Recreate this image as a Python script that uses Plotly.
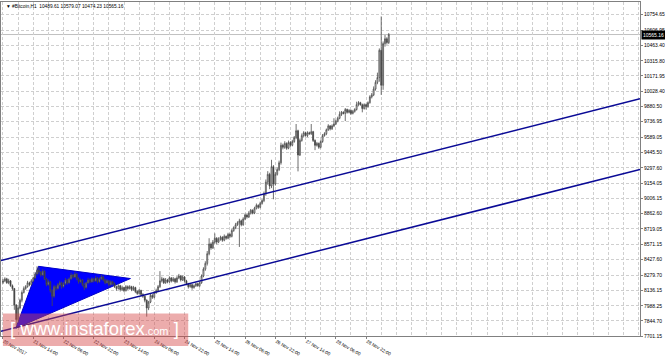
import plotly.graph_objects as go

# ---------------- data (H1 candles, bar index 0 = 20 Nov 2017 22:00) ----------------
opens = [8210, 8225, 8244, 8207, 8225, 8179, 8152, 7995, 7857, 7968,
         8041, 8115, 8152, 8170, 8207, 8189, 8225, 8253, 8290, 8326,
         8308, 8280, 8317, 8244, 8189, 8216, 8133, 8078, 8170, 8152,
         8189, 8207, 8170, 8198, 8234, 8207, 8244, 8280, 8262, 8290,
         8244, 8216, 8234, 8189, 8161, 8207, 8234, 8216, 8244, 8225,
         8253, 8216, 8244, 8262, 8234, 8207, 8225, 8189, 8216, 8198,
         8170, 8152, 8179, 8142, 8161, 8133, 8170, 8152, 8170, 8142,
         8161, 8124, 8106, 8133, 8096, 8078, 8041, 7967, 8023, 8087,
         8069, 8115, 8133, 8170, 8225, 8244, 8207, 8234, 8216, 8253,
         8225, 8244, 8216, 8253, 8271, 8234, 8262, 8225, 8198, 8170,
         8189, 8161, 8179, 8198, 8179, 8207, 8271, 8336, 8391, 8483,
         8575, 8538, 8593, 8630, 8593, 8621, 8639, 8611, 8648, 8630,
         8667, 8648, 8703, 8731, 8758, 8777, 8795, 8758, 8813, 8850,
         8832, 8869, 8896, 8869, 8915, 8942, 8924, 8961, 8988, 9053,
         9163, 9237, 9126, 9310, 9145, 9237, 9283, 9347, 9513, 9494,
         9531, 9485, 9540, 9513, 9549, 9586, 9651, 9421, 9559, 9605,
         9632, 9605, 9632, 9623, 9642, 9559, 9513, 9531, 9494, 9549,
         9605, 9623, 9660, 9697, 9669, 9697, 9715, 9743, 9770, 9807,
         9826, 9816, 9853, 9826, 9844, 9816, 9835, 9853, 9899, 9918,
         9899, 9862, 9899, 9881, 9918, 9973, 9992, 10047, 10111, 10157,
         10415, 10083, 10479, 10525, 10489.61]

highs = [8243, 8259, 8254, 8245, 8233, 8191, 8158, 8005, 7990, 8056,
         8127, 8172, 8184, 8225, 8217, 8241, 8265, 8310, 8363, 8354,
         8320, 8337, 8325, 8254, 8238, 8224, 8145, 8188, 8182, 8204,
         8227, 8217, 8213, 8252, 8244, 8259, 8302, 8290, 8308, 8298,
         8258, 8246, 8242, 8205, 8217, 8254, 8246, 8259, 8254, 8271,
         8261, 8258, 8282, 8272, 8246, 8241, 8233, 8231, 8226, 8210,
         8180, 8193, 8187, 8179, 8169, 8185, 8182, 8184, 8178, 8177,
         8169, 8134, 8148, 8141, 8108, 8088, 8049, 8035, 8105, 8099,
         8129, 8151, 8186, 8317, 8264, 8254, 8252, 8244, 8268, 8261,
         8262, 8254, 8269, 8291, 8281, 8276, 8270, 8235, 8206, 8203,
         8197, 8191, 8208, 8206, 8219, 8286, 8354, 8411, 8508, 8630,
         8590, 8613, 8676, 8640, 8639, 8654, 8649, 8666, 8656, 8682,
         8677, 8717, 8743, 8776, 8791, 8815, 8807, 8829, 8865, 8860,
         8887, 8908, 8904, 8929, 8960, 8952, 8977, 9002, 9073, 9188,
         9267, 9252, 9375, 9325, 9257, 9301, 9367, 9538, 9528, 9551,
         9541, 9558, 9552, 9565, 9601, 9715, 9661, 9577, 9625, 9647,
         9642, 9646, 9642, 9715, 9650, 9569, 9545, 9539, 9561, 9620,
         9637, 9672, 9713, 9705, 9711, 9770, 9755, 9785, 9835, 9838,
         9836, 9867, 9861, 9856, 9852, 9849, 9865, 9927, 9932, 9926,
         9909, 9911, 9909, 9930, 9988, 10010, 10072, 10131, 10203, 10433,
         10737, 10499, 10560, 10540, 10579.07]

lows = [8195, 8213, 8197, 8193, 8169, 8134, 7950, 7802, 7830, 7954,
        8021, 8105, 8140, 8160, 8174, 8181, 8213, 8243, 8275, 8288,
        8265, 8270, 8232, 8174, 8179, 8113, 7986, 8063, 8132, 8142,
        8174, 8150, 8160, 8186, 8189, 8197, 8232, 8247, 8252, 8230,
        8198, 8206, 8174, 8136, 8151, 8193, 8204, 8206, 8211, 8215,
        8201, 8206, 8232, 8219, 8193, 8197, 8171, 8179, 8183, 8158,
        8132, 8142, 8124, 8132, 8118, 8123, 8138, 8142, 8127, 8132,
        8108, 8092, 8096, 8078, 8063, 8021, 7885, 7947, 8013, 8054,
        8059, 8101, 8123, 8158, 8210, 8195, 8197, 8202, 8206, 8210,
        8215, 8200, 8206, 8241, 8219, 8224, 8211, 8183, 8152, 8160,
        8141, 8151, 8167, 8169, 8165, 8197, 8259, 8321, 8371, 8468,
        8520, 8528, 8578, 8573, 8583, 8607, 8596, 8601, 8616, 8620,
        8633, 8638, 8691, 8716, 8748, 8547, 8743, 8748, 8801, 8817,
        8822, 8855, 8857, 8859, 8903, 8909, 8914, 8949, 8973, 9033,
        9138, 9096, 9106, 9000, 9130, 9225, 9268, 9329, 9474, 9479,
        9470, 9475, 9499, 9503, 9537, 9571, 9265, 9411, 9547, 9590,
        9595, 9591, 9613, 9611, 9544, 9467, 9501, 9479, 9484, 9537,
        9595, 9609, 9650, 9654, 9659, 9685, 9705, 9731, 9760, 9792,
        9806, 9743, 9814, 9816, 9802, 9806, 9823, 9843, 9887, 9889,
        9826, 9852, 9853, 9869, 9908, 9958, 9980, 10032, 10093, 10117,
        9992, 10040, 10450, 10470, 10474.23]

closes = [8225, 8244, 8207, 8225, 8179, 8152, 7995, 7857, 7968, 8041,
          8115, 8152, 8170, 8207, 8189, 8225, 8253, 8290, 8326, 8308,
          8280, 8317, 8244, 8189, 8216, 8133, 8078, 8170, 8152, 8189,
          8207, 8170, 8198, 8234, 8207, 8244, 8280, 8262, 8290, 8244,
          8216, 8234, 8189, 8161, 8207, 8234, 8216, 8244, 8225, 8253,
          8216, 8244, 8262, 8234, 8207, 8225, 8189, 8216, 8198, 8170,
          8152, 8179, 8142, 8161, 8133, 8170, 8152, 8170, 8142, 8161,
          8124, 8106, 8133, 8096, 8078, 8041, 7967, 8023, 8087, 8069,
          8115, 8133, 8170, 8225, 8244, 8207, 8234, 8216, 8253, 8225,
          8244, 8216, 8253, 8271, 8234, 8262, 8225, 8198, 8170, 8189,
          8161, 8179, 8198, 8179, 8207, 8271, 8336, 8391, 8483, 8575,
          8538, 8593, 8630, 8593, 8621, 8639, 8611, 8648, 8630, 8667,
          8648, 8703, 8731, 8758, 8777, 8795, 8758, 8813, 8850, 8832,
          8869, 8896, 8869, 8915, 8942, 8924, 8961, 8988, 9053, 9163,
          9237, 9126, 9310, 9145, 9237, 9283, 9347, 9513, 9494, 9531,
          9485, 9540, 9513, 9549, 9586, 9651, 9421, 9559, 9605, 9632,
          9605, 9632, 9623, 9642, 9559, 9513, 9531, 9494, 9549, 9605,
          9623, 9660, 9697, 9669, 9697, 9715, 9743, 9770, 9807, 9826,
          9816, 9853, 9826, 9844, 9816, 9835, 9853, 9899, 9918, 9899,
          9862, 9899, 9881, 9918, 9973, 9992, 10047, 10111, 10157, 10415,
          10083, 10479, 10525, 10489.61, 10565.16]

bars = list(range(len(closes)))

# axis labels
x_tick_bars = [0, 16, 32, 48, 64, 80, 96, 112, 128, 144, 160, 176, 192]
x_tick_labels = ["20 Nov 2017", "21 Nov 14:00", "22 Nov 06:00", "22 Nov 22:00",
                 "23 Nov 14:00", "24 Nov 06:00", "24 Nov 22:00", "25 Nov 14:00",
                 "26 Nov 06:00", "26 Nov 22:00", "27 Nov 14:00", "28 Nov 06:00",
                 "28 Nov 22:00"]
y_tick_values = [7701.15, 7844.70, 7988.25, 8136.15, 8279.70, 8427.60, 8571.15,
                 8719.05, 8862.60, 9006.15, 9154.05, 9297.60, 9445.50, 9589.05,
                 9736.95, 9880.50, 10028.40, 10171.95, 10315.80, 10463.40,
                 10606.95, 10754.65]
y_tick_labels = ["%.2f" % v for v in y_tick_values]

# drawn objects (in bar / price units)
triangle_x = [6.8, 18.8, 67.4]
triangle_y = [7775, 8363, 8247]
upper_channel_x = [-1.05, 336.84]
upper_channel_y = [8418.5, 9954.0]
lower_channel_x = [-1.05, 336.84]
lower_channel_y = [7747.0, 9283.0]
last_price = 10565.16
header_text = "▼ #Bitcoin,H1  10489.61 10579.07 10474.23 10565.16"

# ---------------- figure ----------------
fig = go.Figure()

fig.add_trace(go.Candlestick(
    x=bars, open=opens, high=highs, low=lows, close=closes,
    increasing=dict(line=dict(color="#4a4a4a", width=0.8), fillcolor="#ffffff"),
    decreasing=dict(line=dict(color="#4a4a4a", width=0.8), fillcolor="#1a1a1a"),
    whiskerwidth=0, showlegend=False, hoverinfo="skip"))

for cx, cy in ((upper_channel_x, upper_channel_y), (lower_channel_x, lower_channel_y)):
    fig.add_trace(go.Scatter(
        x=cx, y=cy, mode="lines", line=dict(color="#0a0a96", width=1.5),
        hoverinfo="skip", showlegend=False))

grid_style = dict(showgrid=True, gridcolor="#cfcfcf", griddash="3px,2px", gridwidth=1)

fig.update_layout(
    width=665, height=357,
    margin=dict(l=0, r=23, t=2, b=10, pad=0),
    paper_bgcolor="#ffffff", plot_bgcolor="#ffffff",
    font=dict(family="Liberation Sans, Arial, sans-serif", color="#000000"),
    showlegend=False,
    xaxis=dict(
        range=[-1.05, 336.84], rangeslider=dict(visible=False),
        tickmode="array", tickvals=x_tick_bars, ticktext=x_tick_labels,
        ticklabelposition="outside right",
        tickfont=dict(size=4.6, color="#000000"),
        ticks="outside", ticklen=2, tickcolor="#808080",
        minor=dict(dtick=8, tick0=0, ticks="", **grid_style),
        showline=True, linecolor="#808080", linewidth=1, mirror=True,
        zeroline=False, fixedrange=True, **grid_style),
    yaxis=dict(
        range=[7701.15, 10874.1], side="right",
        tickmode="array", tickvals=y_tick_values, ticktext=y_tick_labels,
        tickfont=dict(size=5, color="#000000"),
        ticks="outside", ticklen=2, tickcolor="#808080",
        showline=True, linecolor="#808080", linewidth=1, mirror=True,
        zeroline=False, fixedrange=True, **grid_style),
)

# triangle (drawn under the candles)
tri_path = "M " + " L ".join("%s,%s" % (tx, ty) for tx, ty in zip(triangle_x, triangle_y)) + " Z"
fig.add_shape(type="path", path=tri_path, xref="x", yref="y",
              fillcolor="#0000FF", line=dict(color="#0000C8", width=1),
              layer="between")

# last price line and label
fig.add_shape(type="line", xref="paper", x0=0, x1=1, yref="y",
              y0=last_price, y1=last_price, line=dict(color="#c0c0c0", width=1),
              layer="between")
fig.add_annotation(xref="paper", x=1, xanchor="left", xshift=1,
                   yref="y", y=last_price, yanchor="middle",
                   text="%.2f" % last_price, showarrow=False,
                   font=dict(size=5, color="#ffffff"), bgcolor="#000000",
                   borderpad=1)

# header
fig.add_annotation(xref="paper", x=0.004, xanchor="left",
                   yref="paper", y=1.0, yanchor="top",
                   text=header_text, showarrow=False,
                   font=dict(size=4.8, color="#000000"))

# watermark
fig.add_shape(type="rect", xref="paper", yref="paper",
              x0=0.003, x1=0.293, y0=-0.03, y1=0.067,
              fillcolor="rgba(212,70,70,0.45)", line=dict(width=0), layer="above")
fig.add_annotation(xref="paper", x=0.147, xanchor="center",
                   yref="paper", y=0.022, yanchor="middle",
                   text="[ www.instaforex<span style='font-size:11px'>.com</span> ]",
                   showarrow=False,
                   font=dict(size=18.5, color="#ffffff",
                             family="Liberation Sans, Arial, sans-serif"))

fig.write_html("out.html")
